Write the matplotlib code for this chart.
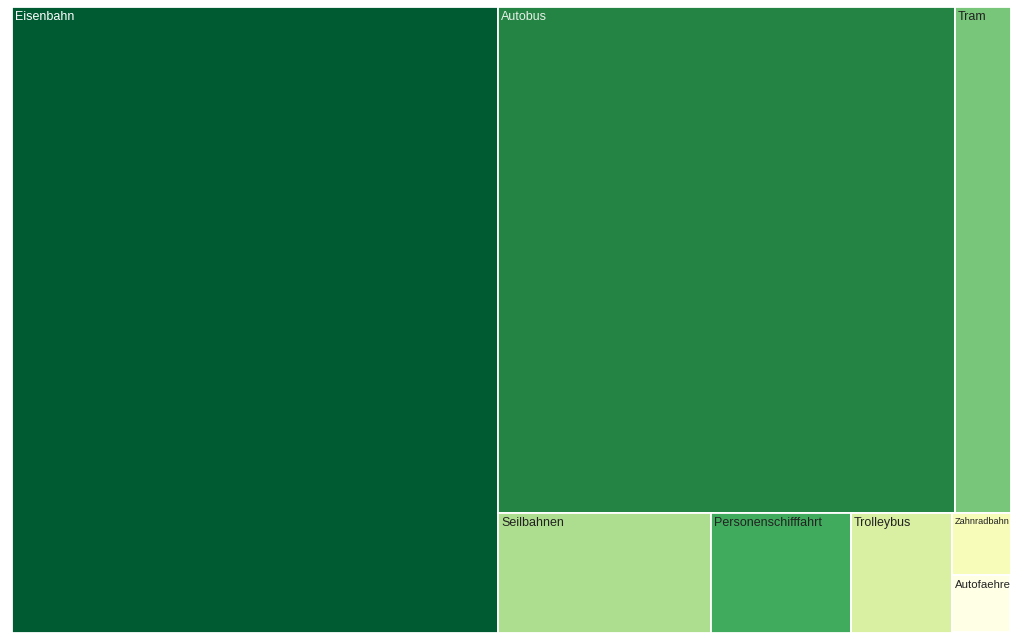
import matplotlib
matplotlib.use('Agg')
import matplotlib.pyplot as plt
from matplotlib.patches import Rectangle

# share of each mode (in per-mille-ish units)
modes = ['Eisenbahn', 'Autobus', 'Tram', 'Seilbahnen', 'Personenschifffahrt',
         'Trolleybus', 'Zahnradbahn', 'Autofaehre']
values = [4867, 3703, 450, 407, 268, 193, 58.5, 53.4]
colors = ['#005a32', '#238443', '#78c679', '#addd8e', '#41ab5d',
          '#d9f0a3', '#f7fcb9', '#ffffe5']
text_colors = ['#ffffff', '#e8f0e8', '#222222', '#222222', '#222222',
               '#222222', '#222222', '#222222']

plt.rcParams['font.family'] = ['Liberation Sans', 'DejaVu Sans']


def squarify(vals, x, y, w, h):
    """greedy squarified layout: a strip grows while its first cell gets squarer"""
    total = float(sum(vals))
    areas = [v * w * h / total for v in vals]
    rects = []
    i = 0
    while i < len(areas):
        side = h if w >= h else w

        def first_ratio(k):
            thick = sum(areas[i:k]) / side
            length = areas[i] / thick
            return max(thick / length, length / thick)

        k = i + 1
        while k < len(areas) and first_ratio(k + 1) <= first_ratio(k):
            k += 1
        thick = sum(areas[i:k]) / side
        pos = 0.0
        for a in areas[i:k]:
            length = a / thick
            if w >= h:
                rects.append((x, y + pos, thick, length))
            else:
                rects.append((x + pos, y, length, thick))
            pos += length
        if w >= h:
            x += thick
            w -= thick
        else:
            y += thick
            h -= thick
        i = k
    return rects


fig = plt.figure(figsize=(10.24, 6.4), dpi=100)
ax = fig.add_axes([0, 0, 1, 1])
ax.set_xlim(0, 1024)
ax.set_ylim(640, 0)
ax.axis('off')

rects = squarify(values, 12, 6.5, 998.5, 626)
fig.canvas.draw()
renderer = fig.canvas.get_renderer()

for name, (x, y, w, h), c, tc in zip(modes, rects, colors, text_colors):
    ax.add_patch(Rectangle((x, y), w, h, facecolor=c, edgecolor='white', linewidth=1.3))
    size = 9
    t = ax.text(x + 3, y + 4.5, name, color=tc, fontsize=size, ha='left', va='top')
    tw = t.get_window_extent(renderer).width
    if tw > w - 4:
        t.set_fontsize(size * (w - 3) / tw)

fig.savefig('out.png')
